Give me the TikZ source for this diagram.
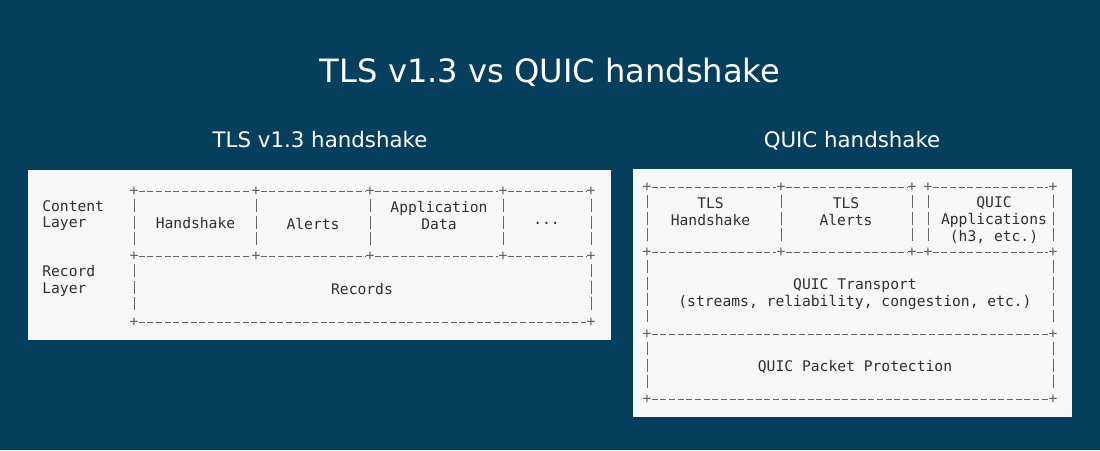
\documentclass[tikz,border=0pt]{standalone}
\usepackage{fontspec}
\setmainfont{DejaVu Sans}
\setmonofont{DejaVu Sans Mono}
\definecolor{bgblue}{RGB}{6,63,93}
\definecolor{panel}{RGB}{247,247,247}
\definecolor{ink}{RGB}{48,48,48}
\definecolor{rulegray}{RGB}{100,100,100}

\begin{document}
\begin{tikzpicture}[x=0.75pt,y=-0.75pt,
    ascii/.style={font=\ttfamily\fontsize{11}{12.6}\selectfont, text=ink, inner sep=0pt},
    plus/.style={ascii, text=rulegray},
    hrule/.style={draw=rulegray, line width=0.6pt, dash pattern=on 4.4pt off 2.1pt},
    vrule/.style={draw=rulegray, line width=0.6pt, dash pattern=on 9.6pt off 2.7pt, shorten <=3pt, shorten >=3pt},
    heading/.style={text=white, inner sep=0pt, anchor=base}]
  % background and the two panels
  \fill [bgblue] (0,0) rectangle (1100,450);
  \fill [panel] (28,170) rectangle (611,340);
  \fill [panel] (633,169) rectangle (1072,417);

  % titles
  \node [heading, font=\fontsize{24.1}{28}\selectfont] (title) at (550,82) {TLS v1.3 vs QUIC handshake};
  \node [heading, font=\fontsize{16}{19}\selectfont] (tlstitle) at (320,147) {TLS v1.3 handshake};
  \node [heading, font=\fontsize{16}{19}\selectfont] (quictitle) at (852,147) {QUIC handshake};

  % TLS v1.3: corner marks
  \node [plus] (lt1) at (134,191) {+};
  \node [plus] (lt2) at (256,191) {+};
  \node [plus] (lt3) at (370,191) {+};
  \node [plus] (lt4) at (503,191) {+};
  \node [plus] (lt5) at (591,191) {+};
  \node [plus] (lm1) at (134,256) {+};
  \node [plus] (lm2) at (256,256) {+};
  \node [plus] (lm3) at (370,256) {+};
  \node [plus] (lm4) at (503,256) {+};
  \node [plus] (lm5) at (591,256) {+};
  \node [plus] (lb1) at (134,322) {+};
  \node [plus] (lb5) at (591,322) {+};

  \draw [hrule] (lt1) -- (lt2);
  \draw [hrule] (lt2) -- (lt3);
  \draw [hrule] (lt3) -- (lt4);
  \draw [hrule] (lt4) -- (lt5);
  \draw [hrule] (lm1) -- (lm2);
  \draw [hrule] (lm2) -- (lm3);
  \draw [hrule] (lm3) -- (lm4);
  \draw [hrule] (lm4) -- (lm5);
  \draw [hrule] (lb1) -- (lb5);
  \draw [vrule] (lt1) -- (lm1);
  \draw [vrule] (lt2) -- (lm2);
  \draw [vrule] (lt3) -- (lm3);
  \draw [vrule] (lt4) -- (lm4);
  \draw [vrule] (lt5) -- (lm5);
  \draw [vrule] (lm1) -- (lb1);
  \draw [vrule] (lm5) -- (lb5);

  % TLS v1.3: labels
  \node [ascii, anchor=west, align=left] (content) at (42,215.5) {Content\\Layer};
  \node [ascii, anchor=west, align=left] (record) at (42,281) {Record\\Layer};
  \node [ascii] (handshake) at (195.5,223.5) {Handshake};
  \node [ascii] (alerts) at (313,223.5) {Alerts};
  \node [ascii, align=center] (appdata) at (439,215.5) {Application\\Data};
  \node [ascii] (more) at (546.5,223.5) {...};
  \node [ascii] (records) at (362,289) {Records};

  % QUIC: corner marks
  \node [plus] (qt1) at (647,187) {+};
  \node [plus] (qt2) at (781,187) {+};
  \node [plus] (qt3) at (912,187) {+};
  \node [plus] (qt4) at (928,187) {+};
  \node [plus] (qt5) at (1053,187) {+};
  \node [plus] (qm1) at (647,252) {+};
  \node [plus] (qm2) at (781,252) {+};
  \node [plus] (qm3) at (912,252) {+};
  \node [plus] (qm4) at (928,252) {+};
  \node [plus] (qm5) at (1053,252) {+};
  \node [plus] (qn1) at (647,334) {+};
  \node [plus] (qn5) at (1053,334) {+};
  \node [plus] (qb1) at (647,399) {+};
  \node [plus] (qb5) at (1053,399) {+};

  \draw [hrule] (qt1) -- (qt2);
  \draw [hrule] (qt2) -- (qt3);
  \draw [hrule] (qt4) -- (qt5);
  \draw [hrule] (qm1) -- (qm2);
  \draw [hrule] (qm2) -- (qm3);
  \draw [hrule] (qm3) -- (qm4);
  \draw [hrule] (qm4) -- (qm5);
  \draw [hrule] (qn1) -- (qn5);
  \draw [hrule] (qb1) -- (qb5);
  \draw [vrule] (qt1) -- (qm1);
  \draw [vrule] (qt2) -- (qm2);
  \draw [vrule] (qt3) -- (qm3);
  \draw [vrule] (qt4) -- (qm4);
  \draw [vrule] (qt5) -- (qm5);
  \draw [vrule] (qm1) -- (qn1);
  \draw [vrule] (qm5) -- (qn5);
  \draw [vrule] (qn1) -- (qb1);
  \draw [vrule] (qn5) -- (qb5);

  % QUIC: labels
  \node [ascii, align=center] (tlshs) at (710.5,211.5) {TLS\\Handshake};
  \node [ascii, align=center] (tlsal) at (846,211.5) {TLS\\Alerts};
  \node [ascii, align=center] (quicapp) at (994,220) {QUIC\\Applications\\(h3, etc.)};
  \node [ascii, align=center] (transport) at (855,294) {QUIC Transport\\(streams, reliability, congestion, etc.)};
  \node [ascii] (protection) at (855,367) {QUIC Packet Protection};
\end{tikzpicture}
\end{document}
